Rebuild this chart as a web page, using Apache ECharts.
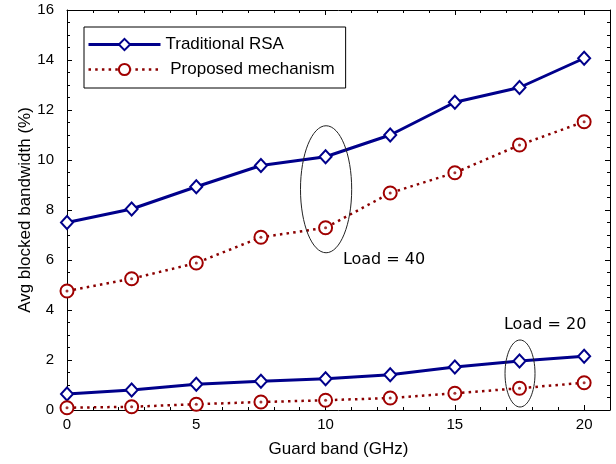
<!DOCTYPE html>
<html>
<head>
<meta charset="utf-8">
<script src="https://cdn.jsdelivr.net/npm/echarts@6/dist/echarts.min.js"></script>
<style>html,body{margin:0;padding:0;background:#fff}#c{width:616px;height:464px}</style>
</head>
<body>
<div id="c"></div>
<script>
// ---- data ----
var guardBand = [0, 2.5, 5, 7.5, 10, 12.5, 15, 17.5, 20];
var rsaLoad40 = [7.5, 8.04, 8.93, 9.78, 10.13, 11.0, 12.31, 12.9, 14.07];
var propLoad40 = [4.76, 5.25, 5.88, 6.91, 7.29, 8.68, 9.49, 10.6, 11.53];
var rsaLoad20 = [0.64, 0.8, 1.03, 1.15, 1.25, 1.41, 1.72, 1.96, 2.15];
var propLoad20 = [0.09, 0.13, 0.23, 0.32, 0.39, 0.48, 0.67, 0.87, 1.09];
var seriesNames = ['Traditional RSA', 'Proposed mechanism'];
var xTicks = [0, 5, 10, 15, 20];
var yTicks = [0, 2, 4, 6, 8, 10, 12, 14, 16];
// annotation ellipses: [centerX, centerY, radiusX, radiusY] in data units
var ellipses = [[10.02, 8.83, 0.99, 2.54], [17.52, 1.46, 0.58, 1.34]];
// annotation labels: [x, y, text]
var loadLabels = [[10.67, 6.0, 'Load = 40'], [16.9, 3.4, 'Load = 20']];

function pairs(xs, ys) { return xs.map(function (x, i) { return [x, ys[i]]; }); }

var BLUE = '#00008b', RED = '#8b0000', MRED = '#a00000';
var FONT = 'Liberation Sans';

var chart = echarts.init(document.getElementById('c'), null, { renderer: 'canvas' });

function xAx(pos, interval, len, labels, line) {
  return {
    type: 'value', position: pos, min: 0, max: 21, interval: interval,
    axisLine: { show: line, onZero: false, lineStyle: { color: '#000', width: 1 } },
    axisTick: { show: true, inside: true, length: len, lineStyle: { color: '#000', width: 1 } },
    axisLabel: labels ? {
      show: true, color: '#000', fontFamily: FONT, fontSize: 15, margin: 7,
      formatter: function (v) { return xTicks.indexOf(v) >= 0 ? String(v) : ''; }
    } : { show: false },
    splitLine: { show: false }
  };
}
function yAx(pos, labels) {
  return {
    type: 'value', position: pos, min: 0, max: 16, interval: 2,
    axisLine: { show: true, onZero: false, lineStyle: { color: '#000', width: 1 } },
    axisTick: { show: true, inside: true, length: 5, lineStyle: { color: '#000', width: 1 } },
    minorTick: { show: true, splitNumber: 4, length: 3, lineStyle: { color: '#000', width: 1 } },
    axisLabel: labels ? {
      show: true, color: '#000', fontFamily: FONT, fontSize: 15, margin: 13,
      formatter: function (v) { return yTicks.indexOf(v) >= 0 ? String(v) : ''; }
    } : { show: false },
    splitLine: { show: false }, minorSplitLine: { show: false }
  };
}

var xAxes = [xAx('bottom', 5, 5, true, true), xAx('bottom', 1, 3, false, false),
             xAx('top', 5, 5, false, true), xAx('top', 1, 3, false, false)];
xAxes[0].name = 'Guard band (GHz)';
xAxes[0].nameLocation = 'middle';
xAxes[0].nameGap = 31;
xAxes[0].nameMoveOverlap = false;
xAxes[0].nameTextStyle = { color: '#000', fontFamily: FONT, fontSize: 17 };
var yAxes = [yAx('left', true), yAx('right', false)];
yAxes[0].name = 'Avg blocked bandwidth (%)';
yAxes[0].nameLocation = 'middle';
yAxes[0].nameGap = 33;
yAxes[0].nameMoveOverlap = false;
yAxes[0].nameTextStyle = { color: '#000', fontFamily: FONT, fontSize: 17 };

function rsaSeries(d) {
  return {
    name: seriesNames[0], type: 'line', data: pairs(guardBand, d),
    symbol: 'emptyDiamond', symbolSize: [12, 13], showSymbol: true,
    lineStyle: { color: BLUE, width: 3 },
    itemStyle: { color: BLUE, borderColor: BLUE, borderWidth: 1.2 },
    z: 3, animation: false
  };
}
function propSeries(d) {
  return {
    name: seriesNames[1], type: 'line', data: pairs(guardBand, d),
    symbol: 'emptyCircle', symbolSize: 13, showSymbol: true,
    lineStyle: { color: RED, width: 2.5, type: [2.5, 4.2], cap: 'butt' },
    itemStyle: { color: MRED, borderColor: MRED, borderWidth: 1.3 },
    z: 3, animation: false
  };
}
function dotSeries(d) {
  return {
    type: 'scatter', data: pairs(guardBand, d), symbol: 'circle', symbolSize: 3,
    itemStyle: { color: RED }, z: 4, silent: true, animation: false
  };
}

var option = {
  backgroundColor: '#fff',
  animation: false,
  grid: { left: 67, right: 6, top: 10, bottom: 54, containLabel: false },
  xAxis: xAxes,
  yAxis: yAxes,
  legend: {
    data: seriesNames,
    orient: 'vertical', left: 84, top: 27,
    itemWidth: 72, itemHeight: 14, itemGap: 8,
    padding: [9, 11, 10, 3],
    borderColor: '#000', borderWidth: 1, backgroundColor: '#fff',
    lineStyle: { width: 'inherit' },
    formatter: function (n) { return n === seriesNames[1] ? ' ' + n : n; },
    textStyle: { color: '#000', fontFamily: FONT, fontSize: 17, lineHeight: 14 },
    selectedMode: false
  },
  series: [
    rsaSeries(rsaLoad40), propSeries(propLoad40),
    rsaSeries(rsaLoad20), propSeries(propLoad20),
    dotSeries(propLoad40), dotSeries(propLoad20),
    {
      type: 'custom', data: ellipses, silent: true, z: 5,
      renderItem: function (params, api) {
        var c = api.coord([api.value(0), api.value(1)]);
        var s = api.size([api.value(2), api.value(3)]);
        return {
          type: 'ellipse',
          shape: { cx: c[0], cy: c[1], rx: s[0], ry: s[1] },
          style: { fill: null, stroke: '#222', lineWidth: 1 }
        };
      }
    },
    {
      type: 'custom', data: loadLabels.map(function (l) { return [l[0], l[1]]; }), silent: true, z: 5,
      renderItem: function (params, api) {
        var c = api.coord([api.value(0), api.value(1)]);
        return {
          type: 'text',
          style: {
            x: c[0], y: c[1], text: loadLabels[params.dataIndex][2],
            fill: '#000', font: '16px "DejaVu Sans"', verticalAlign: 'middle', align: 'left'
          }
        };
      }
    }
  ]
};
chart.setOption(option);
</script>
</body>
</html>
